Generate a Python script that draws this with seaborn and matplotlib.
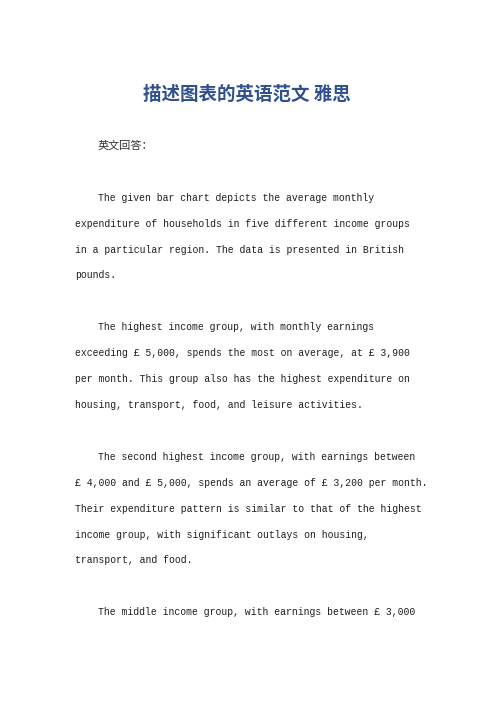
import matplotlib
matplotlib.use("Agg")
import matplotlib.pyplot as plt
import seaborn as sns

# ========== Page content ==========
title = "描述图表的英语范文 雅思"
heading = "英文回答："

paragraphs = [
    ["The given bar chart depicts the average monthly",
     "expenditure of households in five different income groups",
     "in a particular region. The data is presented in British",
     "pounds."],
    ["The highest income group, with monthly earnings",
     "exceeding £ 5,000, spends the most on average, at £ 3,900",
     "per month. This group also has the highest expenditure on",
     "housing, transport, food, and leisure activities."],
    ["The second highest income group, with earnings between",
     "£ 4,000 and £ 5,000, spends an average of £ 3,200 per month.",
     "Their expenditure pattern is similar to that of the highest",
     "income group, with significant outlays on housing,",
     "transport, and food."],
    ["The middle income group, with earnings between £ 3,000"],
]

# ========== Layout ==========
W, H = 496, 702
LEFT, INDENT = 75, 98
TOP_LINE = 146      # y of the heading line
STEP = 25.9         # line pitch in pixels
TEXT_COLOR = "#1e1e1e"
TITLE_COLOR = "#2f4f8f"

sns.set_theme(style="white")
plt.rcParams["font.family"] = ["Liberation Mono", "Noto Sans CJK SC", "DejaVu Sans"]

fig = plt.figure(figsize=(W / 100, H / 100), dpi=100)
ax = fig.add_axes([0, 0, 1, 1])
ax.set_xlim(0, W)
ax.set_ylim(H, 0)
ax.axis("off")

ax.text(W / 2 - 1, 94, title, ha="center", va="center", fontsize=13.3,
        fontweight="bold", color=TITLE_COLOR, family=["Noto Sans CJK SC"])

ax.text(INDENT, TOP_LINE, heading, ha="left", va="center", fontsize=8,
        color="#333333", family=["Noto Sans CJK SC"])

row = 2
for para in paragraphs:
    for i, line in enumerate(para):
        x = INDENT if i == 0 else LEFT
        ax.text(x, TOP_LINE + row * STEP, line, ha="left", va="center",
                fontsize=7, color=TEXT_COLOR)
        row += 1
    row += 1

fig.savefig("out.png", dpi=100, facecolor="white")
plt.close(fig)
